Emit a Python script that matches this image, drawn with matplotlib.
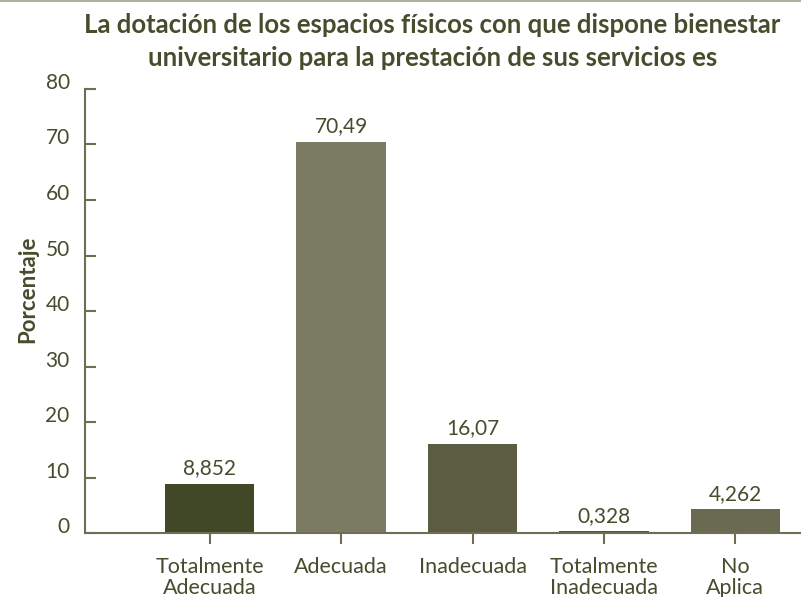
import matplotlib
matplotlib.use("Agg")
import matplotlib.pyplot as plt
from matplotlib.lines import Line2D

plt.rcParams['font.family'] = ['Lato', 'DejaVu Sans']

# data
categorias = ['Totalmente\nAdecuada', 'Adecuada', 'Inadecuada', 'Totalmente\nInadecuada', 'No\nAplica']
porcentajes = [8.852, 70.49, 16.07, 0.328, 4.262]
etiquetas = ['8,852', '70,49', '16,07', '0,328', '4,262']
colores = ['#414827', '#7a7b62', '#5b5c42', '#4f5434', '#696a51']
y_ticks = [0, 10, 20, 30, 40, 50, 60, 70, 80]

texto = '#474c2c'
eje = '#6d6e55'

fig = plt.figure(figsize=(8.01, 5.97), dpi=100)
ax = fig.add_axes([0.106, 0.107, 0.894, 0.744])

x = list(range(len(categorias)))
bars = ax.bar(x, porcentajes, width=0.68, color=colores)

for b, lab in zip(bars, etiquetas):
    ax.annotate(lab, (b.get_x() + b.get_width() / 2, b.get_height()),
                xytext=(0, 4), textcoords='offset points',
                ha='center', va='bottom', fontsize=15, color=texto)

ax.set_xlim(-0.95, 4.5)
ax.set_ylim(0, 80)
ax.set_yticks(y_ticks)
ax.set_yticklabels([str(v) for v in y_ticks])
ax.set_xticks(x)
ax.set_xticklabels(categorias, linespacing=1.05)

for s in ['top', 'right']:
    ax.spines[s].set_visible(False)
for s in ['left', 'bottom']:
    ax.spines[s].set_color(eje)
    ax.spines[s].set_linewidth(1.5)

ax.tick_params(axis='y', direction='in', length=8, width=1.5, color=eje,
               pad=11, labelsize=15, labelcolor=texto)
ax.tick_params(axis='x', direction='out', length=8, width=1.5, color=eje,
               pad=9, labelsize=15.5, labelcolor=texto)
for t in ax.get_yticklabels():
    t.set_va('baseline')
for t in ax.get_xticklabels():
    t.set_va('top')

ax.set_ylabel('Porcentaje', fontsize=16, fontweight='bold', color=texto)
ax.yaxis.set_label_coords(-0.065, 0.55)

fig.text(0.54, 0.978,
         'La dotación de los espacios físicos con que dispone bienestar\n'
         'universitario para la prestación de sus servicios es',
         ha='center', va='top', fontsize=18.5, fontweight='bold', color=texto,
         linespacing=1.45)

# thin border line at the top of the image
fig.add_artist(Line2D([0, 1], [0.999, 0.999], transform=fig.transFigure,
                      color='#b3b09c', linewidth=1.5))

fig.savefig('out.png', dpi=100)
